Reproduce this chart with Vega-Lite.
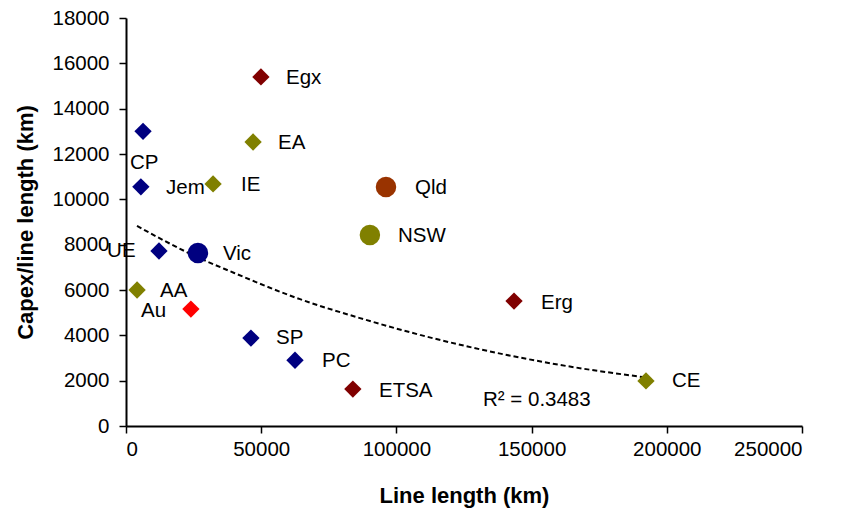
{
  "$schema": "https://vega.github.io/schema/vega-lite/v6.json",
  "autosize": "none",
  "width": 676,
  "height": 408,
  "padding": {"left": 126, "top": 18, "right": 41, "bottom": 92},
  "background": "white",
  "config": {
    "view": {"stroke": null},
    "font": "Liberation Sans",
    "axis": {
      "grid": false,
      "domainColor": "black",
      "domainWidth": 2,
      "tickColor": "black",
      "tickWidth": 1.5,
      "tickSize": 7,
      "labelColor": "black",
      "labelFont": "Liberation Sans",
      "labelFontSize": 20.5,
      "titleFont": "Liberation Sans",
      "titleFontSize": 22,
      "titleFontWeight": "bold",
      "titleColor": "black"
    }
  },
  "datasets": {
    "points": [
      {"name": "CP", "x": 6300, "y": 13000, "lx": 1480, "ly": 11600, "series": "Vic business", "level": "business"},
      {"name": "Jem", "x": 5500, "y": 10550, "lx": 14790, "ly": 10500, "series": "Vic business", "level": "business"},
      {"name": "UE", "x": 12200, "y": 7720, "lx": -7000, "ly": 7720, "series": "Vic business", "level": "business"},
      {"name": "SP", "x": 46200, "y": 3880, "lx": 55470, "ly": 3880, "series": "Vic business", "level": "business"},
      {"name": "PC", "x": 62500, "y": 2900, "lx": 72480, "ly": 2870, "series": "Vic business", "level": "business"},
      {"name": "Vic", "x": 26600, "y": 7630, "lx": 35870, "ly": 7590, "series": "Victoria", "level": "state"},
      {"name": "AA", "x": 4100, "y": 6000, "lx": 12570, "ly": 5960, "series": "NSW/ACT business", "level": "business"},
      {"name": "IE", "x": 32200, "y": 10680, "lx": 42530, "ly": 10630, "series": "NSW/ACT business", "level": "business"},
      {"name": "EA", "x": 47000, "y": 12530, "lx": 56210, "ly": 12490, "series": "NSW/ACT business", "level": "business"},
      {"name": "CE", "x": 192300, "y": 1990, "lx": 201910, "ly": 1985, "series": "NSW/ACT business", "level": "business"},
      {"name": "NSW", "x": 90200, "y": 8430, "lx": 100590, "ly": 8380, "series": "New South Wales", "level": "state"},
      {"name": "Egx", "x": 49900, "y": 15400, "lx": 59170, "ly": 15350, "series": "Qld/SA business", "level": "business"},
      {"name": "ETSA", "x": 83900, "y": 1630, "lx": 93560, "ly": 1540, "series": "Qld/SA business", "level": "business"},
      {"name": "Erg", "x": 143500, "y": 5510, "lx": 153470, "ly": 5430, "series": "Qld/SA business", "level": "business"},
      {"name": "Qld", "x": 96150, "y": 10540, "lx": 106870, "ly": 10500, "series": "Queensland", "level": "state"},
      {"name": "Au", "x": 24000, "y": 5160, "lx": 5550, "ly": 5070, "series": "Australia", "level": "national"}
    ],
    "trend": [
      {"x": 4070, "y": 8824},
      {"x": 26260, "y": 7456},
      {"x": 38460, "y": 6830},
      {"x": 64350, "y": 5595},
      {"x": 86540, "y": 4760},
      {"x": 108720, "y": 4020},
      {"x": 130900, "y": 3385},
      {"x": 160500, "y": 2695},
      {"x": 192300, "y": 2140}
    ],
    "note": [
      {"text": "R² = 0.3483", "x": 132020, "y": 1150}
    ]
  },
  "layer": [
    {
      "data": {"name": "trend"},
      "mark": {"type": "line", "color": "black", "strokeWidth": 2, "strokeDash": [5, 3], "interpolate": "monotone"},
      "encoding": {
        "x": {"field": "x", "type": "quantitative", "scale": {"domain": [0, 250000], "nice": false},
              "axis": {"values": [0, 50000, 100000, 150000, 200000, 250000], "format": "d", "title": "Line length (km)", "labelPadding": 6, "titlePadding": 26}},
        "y": {"field": "y", "type": "quantitative", "scale": {"domain": [0, 18000], "nice": false},
              "axis": {"values": [0, 2000, 4000, 6000, 8000, 10000, 12000, 14000, 16000, 18000], "format": "d", "title": "Capex/line length (km)", "labelPadding": 10, "titlePadding": 14}}
      }
    },
    {
      "data": {"name": "points"},
      "transform": [{"filter": "datum.level != 'state'"}],
      "mark": {"type": "point", "filled": true, "opacity": 1, "shape": "diamond", "size": 300},
      "encoding": {
        "x": {"field": "x", "type": "quantitative"},
        "y": {"field": "y", "type": "quantitative"},
        "color": {"field": "series", "type": "nominal", "legend": null,
                  "scale": {"domain": ["Vic business", "Victoria", "NSW/ACT business", "New South Wales", "Qld/SA business", "Queensland", "Australia"],
                            "range": ["#000080", "#000080", "#808000", "#808000", "#800000", "#993300", "#ff0000"]}}
      }
    },
    {
      "data": {"name": "points"},
      "transform": [{"filter": "datum.level == 'state'"}],
      "mark": {"type": "point", "filled": true, "opacity": 1, "shape": "circle", "size": 420},
      "encoding": {
        "x": {"field": "x", "type": "quantitative"},
        "y": {"field": "y", "type": "quantitative"},
        "color": {"field": "series", "type": "nominal", "legend": null}
      }
    },
    {
      "data": {"name": "points"},
      "mark": {"type": "text", "align": "left", "baseline": "middle", "fontSize": 20.5, "color": "black"},
      "encoding": {
        "x": {"field": "lx", "type": "quantitative"},
        "y": {"field": "ly", "type": "quantitative"},
        "text": {"field": "name"}
      }
    },
    {
      "data": {"name": "note"},
      "mark": {"type": "text", "align": "left", "baseline": "middle", "fontSize": 20.5, "color": "black"},
      "encoding": {
        "x": {"field": "x", "type": "quantitative"},
        "y": {"field": "y", "type": "quantitative"},
        "text": {"field": "text"}
      }
    }
  ]
}
